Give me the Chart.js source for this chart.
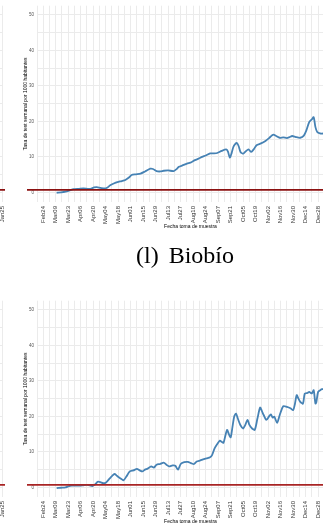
<!DOCTYPE html>
<html lang="es">
<head>
<meta charset="utf-8">
<title>Tasa de test semanal</title>
<script src="https://cdn.jsdelivr.net/npm/chart.js@4.4.1/dist/chart.umd.min.js"></script>
<style>
  html, body { margin: 0; padding: 0; background: #fff; }
  body { position: relative; width: 323px; height: 525px; overflow: hidden; }
  canvas { position: absolute; }
  #leyenda {
    position: absolute; left: 0; top: 243px; width: 370px;
    text-align: center; font: 24px/24px "Liberation Serif", serif; color: #000;
  }
</style>
</head>
<body>
<canvas id="vecinoSup" width="360" height="240" style="left:-341px; top:0"></canvas>
<canvas id="graficoBiobio" width="360" height="240" style="left:0; top:0"></canvas>
<div id="leyenda">(l)<span style="margin-left:10px">Biobío</span></div>
<canvas id="vecinoInf" width="360" height="240" style="left:-341px; top:295px"></canvas>
<canvas id="graficoPanelN" width="360" height="240" style="left:0; top:295px"></canvas>

<script>
// días contados desde el 24 de febrero de 2020
const diasBiobio = [15, 20, 25, 29, 34, 40, 45, 50, 53, 57, 60, 64, 69, 72, 75, 79, 83, 88, 92, 96,
  99, 104, 109, 114, 120, 123, 127, 131, 135, 140, 146, 149, 152, 156, 161, 166, 170, 174, 178, 182,
  187, 191, 195, 200, 205, 207, 209, 211, 213, 215, 217, 219, 221, 224, 227, 230, 233, 236, 239, 244,
  249, 253, 256, 258, 261, 265, 269, 273, 276, 279, 283, 288, 292, 295, 298, 301, 303, 305, 307, 310,
  314, 318];
const tasaBiobio = [-0.1, 0.0, 0.2, 0.5, 0.9, 1.0, 1.1, 1.0, 1.0, 1.4, 1.5, 1.3, 1.1, 1.4, 2.0, 2.5, 2.9, 3.2, 3.5, 4.2,
  4.9, 5.1, 5.3, 5.9, 6.7, 6.6, 6.0, 5.9, 6.1, 6.2, 6.0, 6.5, 7.2, 7.6, 8.1, 8.5, 9.1, 9.5, 10.0, 10.4,
  11.0, 11.0, 11.1, 11.7, 12.1, 11.5, 9.8, 11.0, 12.8, 13.6, 13.9, 13.0, 11.4, 10.9, 11.6, 12.1, 11.4, 12.2, 13.3, 13.8,
  14.5, 15.3, 16.0, 16.3, 15.9, 15.4, 15.5, 15.3, 15.6, 15.9, 15.6, 15.4, 16.0, 17.6, 19.8, 20.6, 21.2, 18.4, 17.0, 16.6,
  16.6, 16.9];

const diasPanelN = [15, 20, 25, 28, 32, 37, 41, 45, 49, 52, 55, 58, 61, 64, 67, 70, 74, 77, 80, 82,
  85, 88, 90, 93, 97, 101, 105, 108, 111, 114, 117, 121, 124, 127, 131, 135, 138, 141, 145, 148,
  151, 154, 158, 162, 166, 169, 172, 176, 179, 183, 187, 189, 192, 195, 198, 200, 202, 204, 206, 208,
  210, 212, 214, 216, 218, 221, 224, 226, 229, 231, 234, 237, 240, 243, 245, 247, 250, 253, 255, 257,
  259, 262, 265, 269, 273, 277, 280, 282, 284, 286, 288, 291, 293, 296, 298, 301, 303, 305, 306, 308,
  311, 314, 317];
const tasaPanelN = [-0.2, -0.1, 0.0, 0.3, 0.5, 0.5, 0.5, 0.6, 0.7, 0.6, 0.4, 0.8, 1.6, 1.5, 1.2, 1.3, 2.4, 3.2, 3.8, 3.4,
  2.8, 2.3, 2.0, 3.0, 4.5, 4.8, 5.2, 4.8, 4.5, 5.0, 5.3, 5.9, 5.6, 6.4, 6.6, 7.0, 6.4, 5.9, 6.2, 6.1,
  5.0, 6.6, 7.1, 7.2, 6.8, 6.6, 7.3, 7.6, 7.9, 8.2, 8.5, 9.0, 11.0, 12.2, 13.2, 12.8, 12.6, 14.5, 16.2, 15.0,
  14.1, 17.0, 20.0, 20.8, 19.4, 17.5, 16.6, 17.4, 19.0, 17.6, 16.6, 16.2, 19.4, 22.5, 21.5, 20.4, 19.0, 20.0, 20.6, 19.7,
  19.9, 18.2, 20.4, 22.9, 22.7, 22.3, 21.8, 23.5, 26.0, 25.0, 24.1, 23.6, 26.4, 26.6, 26.9, 26.5, 27.4, 23.6, 24.0, 26.9,
  27.5, 27.8, 28.3];

// etiquetas cada dos semanas, desde el día 0
const etiquetasX = ['Feb24', 'Mar09', 'Mar23', 'Apr06', 'Apr20', 'May04', 'May18', 'Jun01', 'Jun15', 'Jun29',
  'Jul13', 'Jul27', 'Aug10', 'Aug24', 'Sep07', 'Sep21', 'Oct05', 'Oct19', 'Nov02', 'Nov16', 'Nov30',
  'Dec14', 'Dec28', 'Jan11', 'Jan25'];
const lineasY = [0, 5, 10, 15, 20, 25, 30, 35, 40, 45, 50];
const etiquetasY = [0, 10, 20, 30, 40, 50];
const umbral = 0.7;

Chart.defaults.font.family = '"Liberation Sans", Arial, sans-serif';

function puntos(dias, tasas) {
  return dias.map((d, i) => ({ x: d, y: tasas[i] }));
}

// línea horizontal de referencia, se sale un poco del área del gráfico
const lineaUmbral = {
  id: 'lineaUmbral',
  afterDatasetsDraw(chart, args, opts) {
    const y = chart.scales.y.getPixelForValue(umbral);
    const { left, right } = chart.chartArea;
    const ctx = chart.ctx;
    ctx.save();
    ctx.strokeStyle = opts.color;
    ctx.lineWidth = 1.8;
    ctx.beginPath();
    ctx.moveTo(left - 10, y);
    ctx.lineTo(right + 2, y);
    ctx.stroke();
    ctx.restore();
  }
};

function crearGrafico(id, datos, colorUmbral) {
  return new Chart(document.getElementById(id), {
    type: 'line',
    data: {
      datasets: [{
        data: datos,
        borderColor: '#4682b4',
        borderWidth: 1.8,
        pointRadius: 0,
        tension: 0.25,
        fill: false
      }]
    },
    options: {
      responsive: false,
      animation: false,
      devicePixelRatio: 1,
      layout: { padding: { left: 23, top: 5, right: 16, bottom: 10 } },
      plugins: {
        legend: { display: false },
        tooltip: { enabled: false },
        lineaUmbral: { color: colorUmbral }
      },
      scales: {
        x: {
          type: 'linear',
          min: -7,
          max: 337,
          afterBuildTicks: s => {
            s.ticks = [];
            for (let d = -7; d <= 336; d += 7) s.ticks.push({ value: d });
          },
          afterFit: s => { s.height = 28; },
          border: { display: false },
          grid: { color: '#ebebeb', lineWidth: 1, drawTicks: false },
          ticks: {
            autoSkip: false,
            minRotation: 90,
            maxRotation: 90,
            padding: 4,
            color: '#333',
            font: { size: 6 },
            callback: v => (v >= 0 && v % 14 === 0) ? etiquetasX[v / 14] : ''
          },
          title: {
            display: true,
            text: 'Fecha toma de muestra',
            color: '#000',
            font: { size: 5 },
            padding: 0
          }
        },
        y: {
          min: -2.7,
          max: 52.6,
          afterBuildTicks: s => { s.ticks = lineasY.map(v => ({ value: v })); },
          afterFit: s => { s.width = 14; },
          border: { display: false },
          grid: { color: '#ebebeb', lineWidth: 1, drawTicks: false },
          ticks: {
            padding: 3,
            color: '#555',
            font: { size: 4.5 },
            callback: v => etiquetasY.includes(v) ? String(v) : ''
          },
          title: {
            display: true,
            text: 'Tasa de test semanal por 1000 habitantes',
            color: '#000',
            font: { size: 5 },
            padding: 0
          }
        }
      }
    },
    plugins: [lineaUmbral]
  });
}

crearGrafico('vecinoSup', [], '#8b1111');
crearGrafico('graficoBiobio', puntos(diasBiobio, tasaBiobio), '#8b1111');
crearGrafico('vecinoInf', [], '#a82424');
crearGrafico('graficoPanelN', puntos(diasPanelN, tasaPanelN), '#a82424');
</script>
</body>
</html>
